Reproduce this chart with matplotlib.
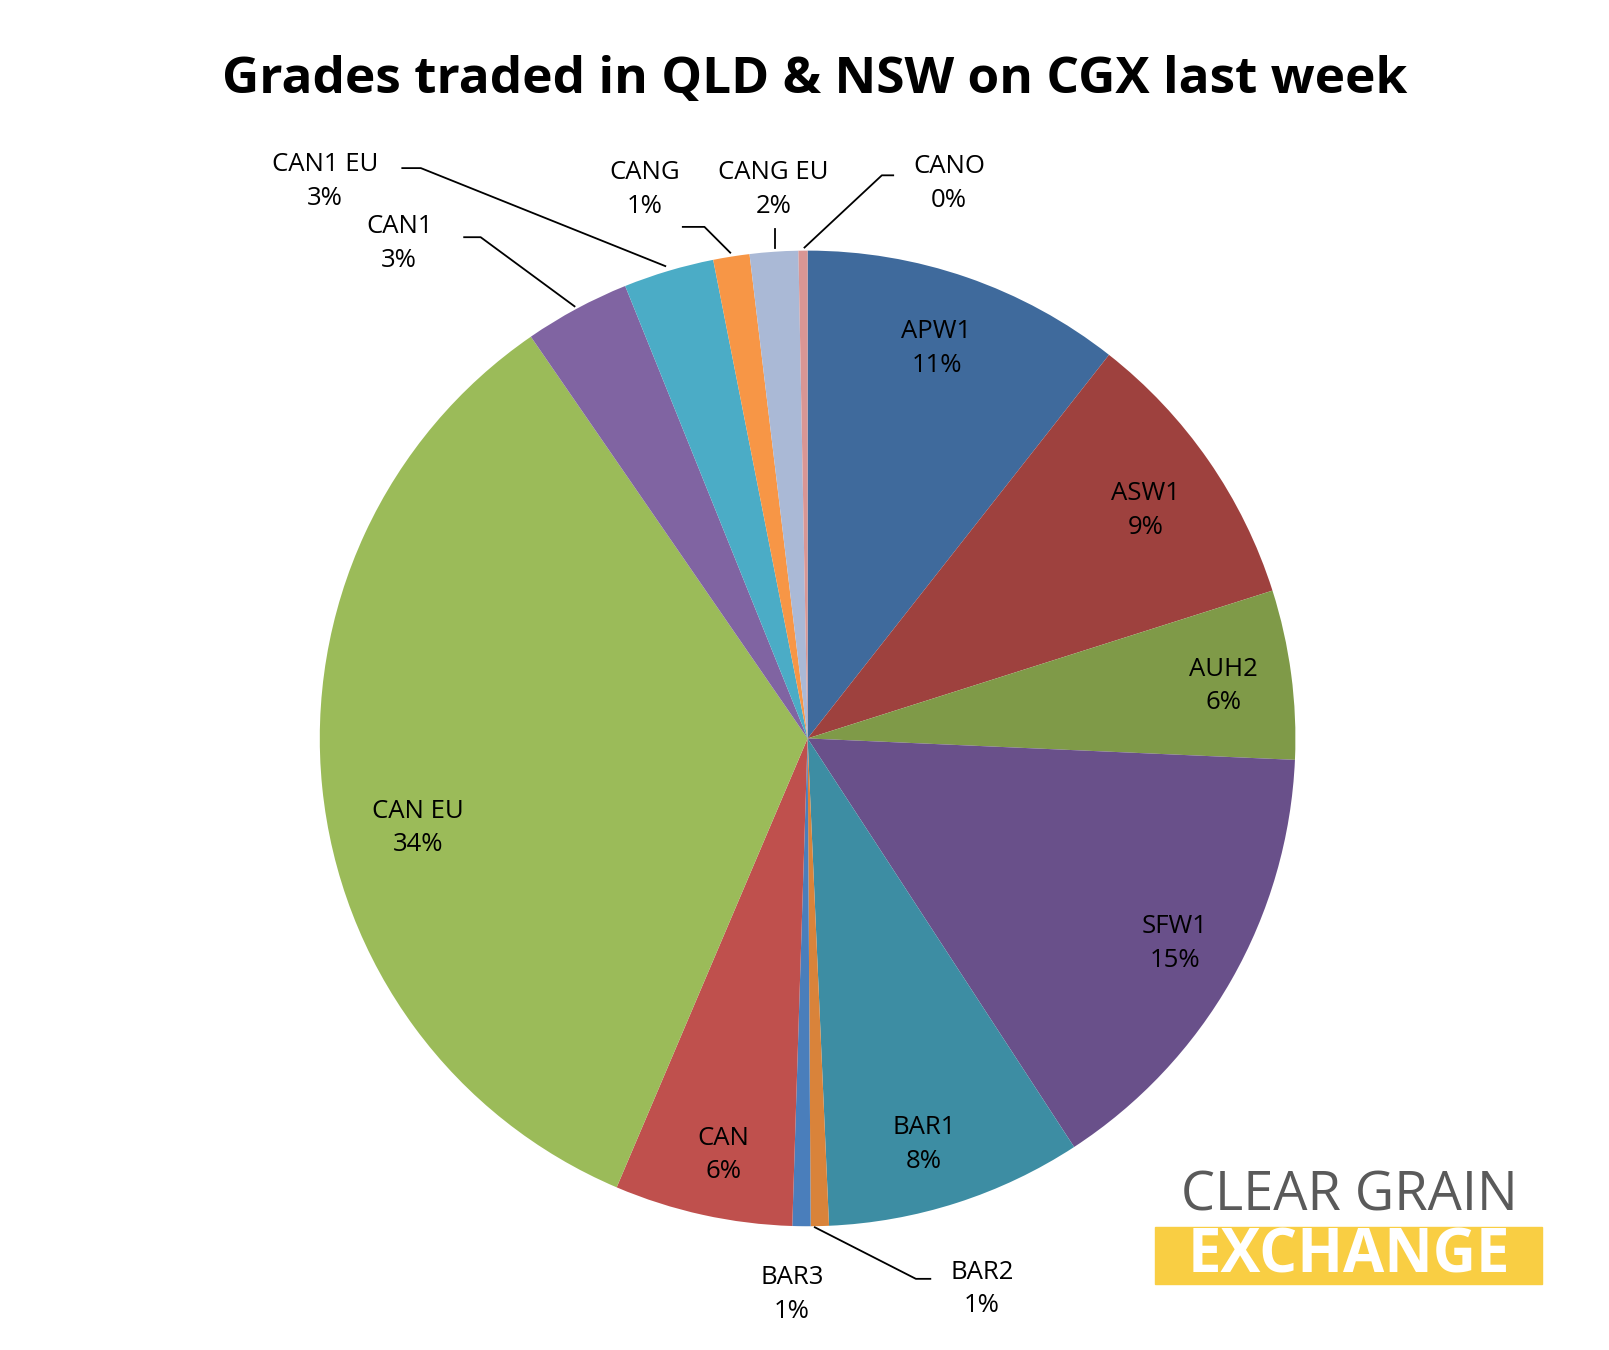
import matplotlib
matplotlib.use("Agg")
import matplotlib.pyplot as plt

labels = ["APW1","ASW1","AUH2","SFW1","BAR1","BAR2","BAR3","CAN","CAN EU","CAN1","CAN1 EU","CANG","CANG EU","CANO"]
values = [10.6,9.5,5.6,15.1,8.5,0.6,0.6,5.9,34.0,3.5,3.0,1.2,1.6,0.3]
pct = ["11%","9%","6%","15%","8%","1%","1%","6%","34%","3%","3%","1%","2%","0%"]
colors = ["#3F6A9C","#9E413E","#7F9A48","#69508A","#3D8DA3","#D9833A","#4A7EBB",
          "#BF504D","#9BBB59","#8064A2","#4BACC6","#F79646","#AAB9D6","#D99694"]

W, H, CX, CY, R = 1560, 1309, 783, 716, 473
def d(px, py):
    return ((px-CX)/R, (CY-py)/R)

fig = plt.figure(figsize=(16.09, 13.5), dpi=100)
ax = fig.add_axes([0, 0, 1, 1])
ax.pie(values, colors=colors, startangle=90, counterclock=False,
       wedgeprops=dict(linewidth=0))
ax.set_xlim(-CX/R, (W-CX)/R)
ax.set_ylim(-(H-CY)/R, CY/R)
ax.set_aspect("equal")
ax.axis("off")

fam = ["Open Sans", "DejaVu Sans"]
label_pos = {
    "APW1": (908,338), "ASW1": (1111,495), "AUH2": (1186,665), "SFW1": (1139,915),
    "BAR1": (896,1110), "CAN": (701,1120), "CAN EU": (405,803), "BAR3": (768,1255),
    "BAR2": (952,1250), "CAN1": (387,236), "CAN1 EU": (315,176), "CANG": (625,184),
    "CANG EU": (750,184), "CANO": (920,178),
}
for lab, p in zip(labels, pct):
    x, y = d(*label_pos[lab])
    ax.text(x, y, f"{lab}\n{p}", ha="center", va="center", fontsize=18.5,
            family=fam, linespacing=1.45)

leaders = [
    [(790,1190),(888,1240),(902,1240)],
    [(557,297),(466,230),(450,230)],
    [(645,258),(408,163),(390,163)],
    [(708,245),(683,220),(662,220)],
    [(751,240),(751,222)],
    [(780,240),(855,170),(866,170)],
]
for pts in leaders:
    xs, ys = zip(*[d(*p) for p in pts])
    ax.plot(xs, ys, color="black", lw=1.3)

fig.text(790/W, 1-78/H, "Grades traded in QLD & NSW on CGX last week", ha="center",
         va="center", fontsize=37, fontweight="bold", family=fam)

fig.text(1308/W, 1-1160/H, "CLEAR GRAIN", ha="center", va="center", fontsize=39,
         color="#5A5A5A", family=fam)
ax.add_patch(plt.Rectangle(d(1120,1245), 375/R, 55/R, color="#F9CE43", zorder=3))
xx, yy = d(1308,1219)
ax.text(xx, yy, "EXCHANGE", ha="center", va="center", fontsize=43, fontweight="bold",
        color="white", family=fam, zorder=4)

fig.savefig("out.png", dpi=100, facecolor="white")
